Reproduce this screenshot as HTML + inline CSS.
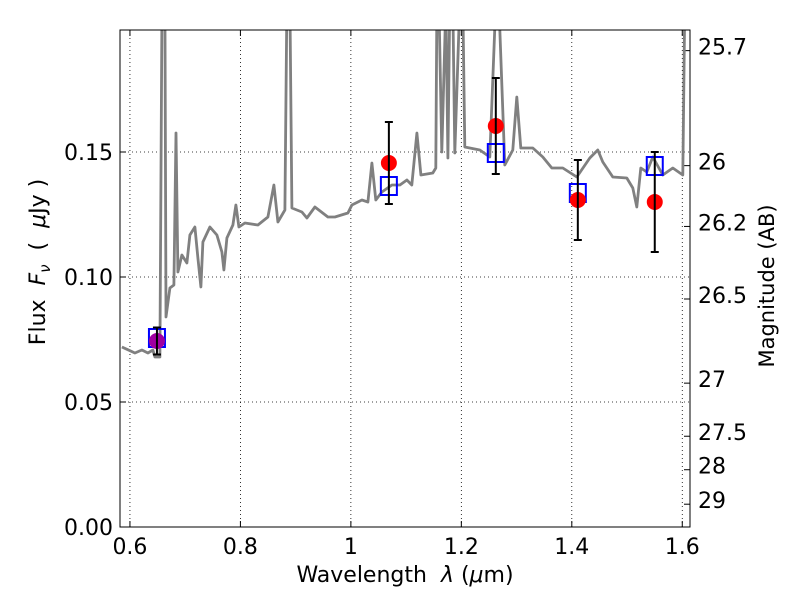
<!DOCTYPE html>
<html><head><meta charset="utf-8"><style>
body{margin:0;background:#fff}
svg text{font-family:"DejaVu Sans","Liberation Sans",sans-serif;fill:#000}
</style></head><body>
<svg id="chart" width="800" height="600" viewBox="0 0 800 600" xmlns="http://www.w3.org/2000/svg"></svg>
<script>
const specLambda=[0.5855,0.609,0.6217,0.6326,0.6416,0.6452,0.6543,0.658,0.6633,0.6652,0.6724,0.6796,0.6833,0.6869,0.6941,0.7032,0.7086,0.7176,0.7231,0.7285,0.7321,0.7448,0.7575,0.7665,0.7701,0.7756,0.7864,0.7919,0.7973,0.8081,0.8317,0.8498,0.8606,0.8679,0.8805,0.8842,0.8896,0.8932,0.9113,0.9204,0.9348,0.9584,0.971,0.9946,1.0018,1.0199,1.0308,1.038,1.0452,1.0561,1.0742,1.0887,1.1014,1.1104,1.1195,1.1267,1.1484,1.1538,1.1557,1.1593,1.1647,1.172,1.1756,1.1792,1.1846,1.1882,1.1973,1.2027,1.2063,1.2335,1.2516,1.2624,1.2679,1.2787,1.2932,1.3005,1.3077,1.3294,1.3475,1.3638,1.3837,1.409,1.4326,1.4471,1.4561,1.4742,1.4995,1.5104,1.5176,1.5249,1.5357,1.5466,1.5647,1.5828,1.6009,1.6045,1.61];
const specFlux=[0.072,0.0696,0.0708,0.0696,0.0708,0.068,0.068,0.21,0.21,0.084,0.0956,0.0968,0.1576,0.102,0.1088,0.1056,0.1168,0.12,0.1076,0.096,0.114,0.12,0.1168,0.11,0.1028,0.1156,0.1208,0.1288,0.12,0.1216,0.1208,0.124,0.1368,0.122,0.1268,0.21,0.21,0.1276,0.126,0.1236,0.128,0.124,0.124,0.1256,0.1288,0.1308,0.13,0.1456,0.1308,0.134,0.1368,0.1368,0.1388,0.1368,0.1576,0.1408,0.1416,0.1436,0.21,0.21,0.15,0.21,0.1476,0.21,0.21,0.1496,0.21,0.21,0.152,0.1508,0.148,0.21,0.21,0.1448,0.1508,0.172,0.1516,0.1516,0.148,0.1436,0.1436,0.14,0.1476,0.1508,0.146,0.14,0.1396,0.1356,0.128,0.1436,0.142,0.148,0.1408,0.1436,0.1408,0.21,0.21];
const obsLambda=[0.6489,1.0688,1.2624,1.4109,1.5502];
const obsFlux=[0.0744,0.1456,0.1604,0.1308,0.13];
const obsErr=[0.0054,0.0164,0.0192,0.016,0.02];
const modelFlux=[0.0756,0.1364,0.1496,0.1336,0.1444];
const xTicks=[0.6,0.8,1.0,1.2,1.4,1.6];
const xTickLabels=["0.6","0.8","1","1.2","1.4","1.6"];
const yTicks=[0,0.05,0.1,0.15];
const yTickLabels=["0.00","0.05","0.10","0.15"];
const magTicks=[25.7,26,26.2,26.5,27,27.5,28,29];

const L=120,R=690,T=30,B=527;
const xMin=0.582,xMax=1.614,yMin=0,yMax=0.1988;
const X=v=>L+(v-xMin)/(xMax-xMin)*(R-L);
const Y=v=>B-(v-yMin)/(yMax-yMin)*(B-T);
const svg=document.getElementById('chart');
const NS='http://www.w3.org/2000/svg';
function mk(tag,attrs,parent){const e=document.createElementNS(NS,tag);for(const k in attrs)e.setAttribute(k,attrs[k]);(parent||svg).appendChild(e);return e;}

const clip=mk('clipPath',{id:'pc'});mk('rect',{x:L,y:T,width:R-L,height:B-T},clip);
xTicks.forEach((t,i)=>{const g=mk('line',{x1:X(t),x2:X(t),y1:T,y2:B,stroke:'#000','stroke-width':0.8,'stroke-dasharray':'1,3'});


const tk=mk('line',{x1:X(t),x2:X(t),y1:B,y2:B-6,stroke:'#000'});


const tk2=mk('line',{x1:X(t),x2:X(t),y1:T,y2:T+6,stroke:'#000'});


const tx=mk('text',{x:X(t),y:B+27,'text-anchor':'middle','font-size':22});tx.textContent=xTickLabels[i];

});
yTicks.forEach((t,i)=>{const g=mk('line',{x1:L,x2:R,y1:Y(t),y2:Y(t),stroke:'#000','stroke-width':0.8,'stroke-dasharray':'1,3'});


const tk=mk('line',{x1:L,x2:L+6,y1:Y(t),y2:Y(t),stroke:'#000'});


const tx=mk('text',{x:L-7,y:Y(t)+8,'text-anchor':'end','font-size':22});tx.textContent=yTickLabels[i];

});
magTicks.forEach(m=>{const f=Math.pow(10,(23.9-m)/2.5);const y=Y(f);
const tk=mk('line',{x1:R,x2:R-6,y1:y,y2:y,stroke:'#000'});


const tx=mk('text',{x:R+8,y:y+4,'font-size':22});tx.textContent=String(m);

});
const pts=specLambda.map((l,i)=>X(l).toFixed(1)+','+Y(specFlux[i]).toFixed(1)).join(' ');
const sp=mk('polyline',{points:pts,fill:'none',stroke:'#808080','stroke-width':2.8,'stroke-linejoin':'round','clip-path':'url(#pc)'});


obsLambda.forEach((l,i)=>{const s=mk('rect',{x:X(l)-8,y:Y(modelFlux[i])-9,width:16,height:18,fill:'none',stroke:'#0000ff','stroke-width':2});

});
obsLambda.forEach((l,i)=>{const x=X(l);
const c=mk('circle',{cx:x,cy:Y(obsFlux[i]),r:8,fill:i===0?'#a000a0':'#ff0000'});


const y1=Y(obsFlux[i]+obsErr[i]),y2=Y(obsFlux[i]-obsErr[i]);
const e=mk('path',{d:`M${x},${y1}V${y2}M${x-4},${y1}H${x+4}M${x-4},${y2}H${x+4}`,stroke:'#000','stroke-width':2,fill:'none'});

});
const fr=mk('rect',{x:L,y:T,width:R-L,height:B-T,fill:'none',stroke:'#000','stroke-width':1});


</script>
<div style="position:absolute;left:0;top:0;width:800px;height:600px;pointer-events:none">
<svg width="800" height="600" style="position:absolute;left:0;top:0">
<text x="405" y="582" text-anchor="middle" font-size="22" font-family="DejaVu Sans, sans-serif" xml:space="preserve">Wavelength  <tspan font-style="italic">λ</tspan> (<tspan font-style="italic">μ</tspan>m)</text>
<text transform="translate(45,262) rotate(-90)" text-anchor="middle" font-size="22" font-family="DejaVu Sans, sans-serif" xml:space="preserve">Flux  <tspan font-style="italic">F</tspan><tspan font-style="italic" font-size="15" dy="5">ν</tspan><tspan dy="-5">  (  </tspan><tspan font-style="italic">μ</tspan>Jy )</text>
<text transform="translate(774,286) rotate(-90)" text-anchor="middle" font-size="21" font-family="DejaVu Sans, sans-serif">Magnitude (AB)</text>
</svg></div>
</body></html>
